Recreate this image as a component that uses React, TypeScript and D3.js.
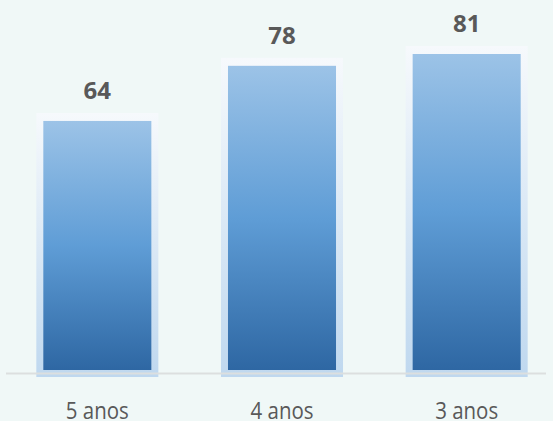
import React from "react";
import * as d3 from "d3";

const categories = ["5 anos", "4 anos", "3 anos"];
const values = [64, 78, 81];

const width = 553;
const height = 421;

export default function App() {
  const x = d3
    .scaleBand<string>()
    .domain(categories)
    .range([5, 559])
    .paddingInner(0.415)
    .paddingOuter(0.2075);

  const y = d3.scaleLinear().domain([0, 81]).range([373, 54]);

  const bottom = 370;

  return (
    <svg
      width={width}
      height={height}
      style={{ position: "absolute", left: 0, top: 0, background: "#F0F8F7" }}
    >
      <defs>
        <linearGradient id="barFill" x1="0" y1="0" x2="0" y2="1">
          <stop offset="0%" stopColor="#9CC3E7" />
          <stop offset="50%" stopColor="#5F9DD6" />
          <stop offset="100%" stopColor="#2E67A3" />
        </linearGradient>
        <linearGradient id="glowFill" x1="0" y1="0" x2="0" y2="1">
          <stop offset="0%" stopColor="#F6F9FC" />
          <stop offset="100%" stopColor="#BFD8EF" />
        </linearGradient>
      </defs>

      {categories.map((c, i) => {
        const bx = x(c)!;
        const by = y(values[i]);
        return (
          <g key={c}>
            <rect
              x={bx - 7}
              y={by - 8}
              width={x.bandwidth() + 14}
              height={377 - (by - 8)}
              fill="url(#glowFill)"
            />
            <rect
              x={bx}
              y={by}
              width={x.bandwidth()}
              height={bottom - by}
              fill="url(#barFill)"
            />
            <text
              x={bx + x.bandwidth() / 2}
              y={by - 22}
              textAnchor="middle"
              fontFamily="'Open Sans', sans-serif"
              fontWeight="bold"
              fontSize={24}
              fill="#595959"
            >
              {values[i]}
            </text>
          </g>
        );
      })}

      <line x1={6} x2={546} y1={373.5} y2={373.5} stroke="#DCDFDF" strokeWidth={2} />

      {categories.map((c) => (
        <text
          key={c}
          x={x(c)! + x.bandwidth() / 2}
          y={418.5}
          textAnchor="middle"
          fontFamily="'Open Sans', sans-serif"
          fontSize={24}
          textLength={63}
          lengthAdjust="spacingAndGlyphs"
          fill="#595959"
        >
          {c}
        </text>
      ))}
    </svg>
  );
}
